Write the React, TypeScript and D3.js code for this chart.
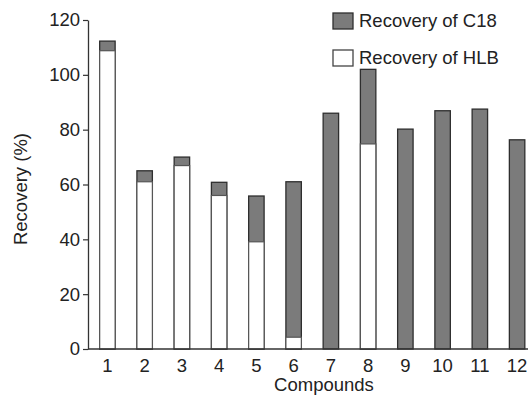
import React, { useEffect, useRef } from 'react';
import * as d3 from 'd3';

const compounds = ['1', '2', '3', '4', '5', '6', '7', '8', '9', '10', '11', '12'];
const recoveryC18 = [112.3, 65, 70, 60.8, 55.8, 61, 86, 102, 80.2, 86.9, 87.5, 76.3];
const recoveryHLB = [108.8, 61, 66.9, 56, 39.1, 4.3, 0, 74.8, 0, 0, 0, 0];
const yTicks = [0, 20, 40, 60, 80, 100, 120];

const W = 528;
const H = 396;
const font = 'Arial, "Liberation Sans", Helvetica, sans-serif';
const fs = 18.5;

export default function App() {
  const ref = useRef<SVGSVGElement>(null);

  useEffect(() => {
    const svg = d3.select(ref.current);
    svg.selectAll('*').remove();

    const left = 88;
    const top = 20;
    const bottom = 349;

    const y = d3.scaleLinear().domain([0, 120]).range([bottom, top]);
    const x = d3.scaleBand().domain(compounds).range([88.5, 536]).paddingInner(0.585).paddingOuter(0.3);

    const g = svg.append('g');

    // C18 bars (full height, behind)
    g.selectAll('rect.c18')
      .data(compounds)
      .enter()
      .append('rect')
      .attr('class', 'c18')
      .attr('x', (d) => x(d)!)
      .attr('y', (d, i) => y(recoveryC18[i]))
      .attr('width', x.bandwidth())
      .attr('height', (d, i) => bottom - y(recoveryC18[i]))
      .attr('fill', '#7b7b7b')
      .attr('stroke', '#2e2e2e')
      .attr('stroke-width', 1.3);

    // HLB bars (in front)
    g.selectAll('rect.hlb')
      .data(compounds.filter((d, i) => recoveryHLB[i] > 0))
      .enter()
      .append('rect')
      .attr('class', 'hlb')
      .attr('x', (d) => x(d)!)
      .attr('y', (d) => y(recoveryHLB[compounds.indexOf(d)]))
      .attr('width', x.bandwidth())
      .attr('height', (d) => bottom - y(recoveryHLB[compounds.indexOf(d)]))
      .attr('fill', '#ffffff')
      .attr('stroke', '#555')
      .attr('stroke-width', 1.2);

    // y axis
    const yAxis = svg
      .append('g')
      .attr('transform', `translate(${left},0)`)
      .call(d3.axisLeft(y).tickValues(yTicks).tickSize(5).tickSizeOuter(0).tickPadding(3));
    yAxis.select('.domain').attr('stroke', '#333').attr('stroke-width', 1.3);
    yAxis.selectAll('.tick line').attr('stroke', '#333').attr('stroke-width', 1.2);
    yAxis
      .selectAll('.tick text')
      .attr('font-family', font)
      .attr('font-size', fs)
      .attr('fill', '#222');

    // x axis baseline
    svg
      .append('line')
      .attr('x1', left)
      .attr('x2', W)
      .attr('y1', bottom)
      .attr('y2', bottom)
      .attr('stroke', '#333')
      .attr('stroke-width', 1.5);

    svg
      .append('g')
      .selectAll('text')
      .data(compounds)
      .enter()
      .append('text')
      .attr('x', (d) => x(d)! + x.bandwidth() / 2)
      .attr('y', 372)
      .attr('text-anchor', 'middle')
      .attr('font-family', font)
      .attr('font-size', fs)
      .attr('fill', '#222')
      .text((d) => d);

    // axis titles
    svg
      .append('text')
      .attr('transform', `translate(27,189) rotate(-90)`)
      .attr('text-anchor', 'middle')
      .attr('font-family', font)
      .attr('font-size', fs)
      .attr('fill', '#222')
      .text('Recovery (%)');

    svg
      .append('text')
      .attr('x', 324)
      .attr('y', 391)
      .attr('text-anchor', 'middle')
      .attr('font-family', font)
      .attr('font-size', fs)
      .attr('fill', '#222')
      .text('Compounds');

    // legend
    const legend = [
      { label: 'Recovery of C18', fill: '#7b7b7b', stroke: '#2e2e2e', y: 13 },
      { label: 'Recovery of HLB', fill: '#ffffff', stroke: '#444', y: 50 },
    ];
    const lg = svg.append('g').selectAll('g').data(legend).enter().append('g');
    lg.append('rect')
      .attr('x', 333)
      .attr('y', (d) => d.y)
      .attr('width', 20)
      .attr('height', 16)
      .attr('fill', (d) => d.fill)
      .attr('stroke', (d) => d.stroke)
      .attr('stroke-width', 1.3);
    lg.append('text')
      .attr('x', 359)
      .attr('y', (d) => d.y + 14)
      .attr('font-family', font)
      .attr('font-size', fs)
      .attr('fill', '#222')
      .text((d) => d.label);
  }, []);

  return (
    <svg
      ref={ref}
      width={W}
      height={H}
      style={{ position: 'absolute', left: 0, top: 0, background: '#fff' }}
    />
  );
}
